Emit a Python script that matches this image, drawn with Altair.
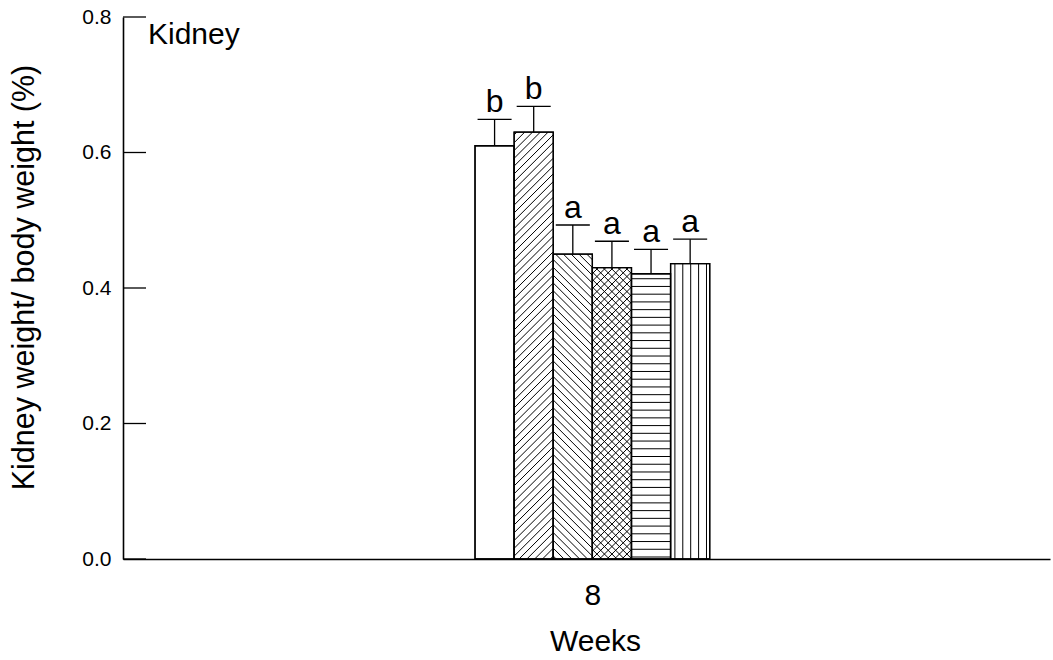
import altair as alt
import numpy as np
import pandas as pd

# ---- data -------------------------------------------------------------
weeks = [8]
groups = ["Group 1", "Group 2", "Group 3", "Group 4", "Group 5", "Group 6"]
means = [0.610, 0.630, 0.450, 0.430, 0.421, 0.436]
errors = [0.039, 0.038, 0.043, 0.039, 0.036, 0.036]
letters = ["b", "b", "a", "a", "a", "a"]
hatches = ["none", "/", "\\", "x", "-", "|"]
y_ticks = [0.0, 0.2, 0.4, 0.6, 0.8]
panel_label = ["Kidney"]

# ---- layout / style ---------------------------------------------------
W, H = 927, 542
X_DOMAIN = [0, 15.8]
Y_DOMAIN = [0, 0.8]
BAR_W = 2 / 3          # bar width in week units
CAP_W = 0.58           # error-bar cap width in week units
SPACING = 7.8          # hatch spacing in pixels
FONT = "Liberation Sans"

px_x = W / (X_DOMAIN[1] - X_DOMAIN[0])
px_y = H / (Y_DOMAIN[1] - Y_DOMAIN[0])

n = len(groups)
week = weeks[0]
bars = pd.DataFrame({"group": groups, "mean": means, "err": errors,
                     "letter": letters, "hatch": hatches})
bars["left"] = week + (np.arange(n) - n / 2) * BAR_W
bars["right"] = bars["left"] + BAR_W
bars["center"] = bars["left"] + BAR_W / 2
bars["base"] = 0.0
bars["top"] = bars["mean"] + bars["err"]
bars["cap_l"] = bars["center"] - CAP_W / 2
bars["cap_r"] = bars["center"] + CAP_W / 2


def diagonal(sign, w, h, s, phase):
    """45-degree hatch lines clipped to a w x h pixel box."""
    out = []
    if sign > 0:  # y = x + c
        c = -w + phase
        while c < h:
            x0, x1 = max(0.0, -c), min(w, h - c)
            if x1 > x0:
                out.append((x0, x0 + c, x1, x1 + c))
            c += s
    else:  # y = -x + c
        c = phase
        while c < w + h:
            x0, x1 = max(0.0, c - h), min(w, c)
            if x1 > x0:
                out.append((x0, c - x0, x1, c - x1))
            c += s
    return out


def hatch_segments(kind, w, h):
    if kind == "/":
        return diagonal(1, w, h, SPACING, 3.0)
    if kind == "\\":
        return diagonal(-1, w, h, SPACING, 3.0)
    if kind == "x":
        return diagonal(1, w, h, 7.5, 2.0) + diagonal(-1, w, h, 7.5, 2.0)
    if kind == "-":
        ys = np.arange(2.0, h, 7.73)
        return [(0.0, y, w, y) for y in ys]
    if kind == "|":
        xs = np.arange(4.3, w - 1.0, 7.9)
        return [(x, 0.0, x, h) for x in xs]
    return []


rows = []
for _, b in bars.iterrows():
    w_px = BAR_W * px_x
    h_px = b["mean"] * px_y
    for (x0, y0, x1, y1) in hatch_segments(b["hatch"], w_px, h_px):
        rows.append({"x1": b["left"] + x0 / px_x, "y1": y0 / px_y,
                     "x2": b["left"] + x1 / px_x, "y2": y1 / px_y})
hatch_df = pd.DataFrame(rows)

x_scale = alt.Scale(domain=X_DOMAIN, nice=False, zero=False)
y_scale = alt.Scale(domain=Y_DOMAIN, nice=False)

x_axis = alt.Axis(values=weeks, format="d", title="Weeks", grid=False,
                  ticks=False, tickSize=0, labelFlush=False,
                  labelFontSize=30, labelBaseline="alphabetic", labelPadding=45,
                  titleFontSize=30, titleFontWeight="normal",
                  titleBaseline="alphabetic", titleY=91, titleX=472)
y_axis = alt.Axis(values=y_ticks, format=".1f",
                  title="Kidney weight/ body weight (%)", grid=False,
                  ticks=False, tickSize=0, labelFontSize=21, labelPadding=12,
                  titleFontSize=30.5, titleFontWeight="normal",
                  titleBaseline="alphabetic", titleAngle=270, titleAlign="center",
                  titleX=-90, titleY=260)


def X(field):
    return alt.X(field, scale=x_scale, axis=x_axis)


def Y(field):
    return alt.Y(field, scale=y_scale, axis=y_axis)


bar_layer = alt.Chart(bars).mark_bar(fill="white", stroke="black", strokeWidth=1.3).encode(
    x=X("left:Q"), x2="right:Q", y=Y("mean:Q"), y2="base:Q",
)

hatch_layer = alt.Chart(hatch_df).mark_rule(color="black", strokeWidth=1).encode(
    x=X("x1:Q"), x2="x2:Q", y=Y("y1:Q"), y2="y2:Q",
)

outline_layer = alt.Chart(bars).mark_bar(fillOpacity=0, stroke="black", strokeWidth=1.3).encode(
    x=X("left:Q"), x2="right:Q", y=Y("mean:Q"), y2="base:Q",
)

stem_layer = alt.Chart(bars).mark_rule(color="black", strokeWidth=1.3).encode(
    x=X("center:Q"), y=Y("mean:Q"), y2="top:Q",
)

cap_layer = alt.Chart(bars).mark_rule(color="black", strokeWidth=1.3).encode(
    x=X("cap_l:Q"), x2="cap_r:Q", y=Y("top:Q"),
)

letter_layer = alt.Chart(bars).mark_text(
    font=FONT, fontSize=32, baseline="alphabetic", align="center", dy=-7, color="black"
).encode(
    x=X("center:Q"), y=Y("top:Q"), text="letter:N",
)

# y-axis ticks drawn inward from the axis line
tick_layer = alt.Chart(pd.DataFrame({"tick": y_ticks})).mark_rule(
    color="black", strokeWidth=1.3
).encode(
    y=Y("tick:Q"), x=alt.value(0), x2=alt.value(23),
)

label_layer = alt.Chart(pd.DataFrame({"label": panel_label})).mark_text(
    font=FONT, fontSize=30, align="left", baseline="alphabetic", color="black"
).encode(
    x=alt.value(25), y=alt.value(27), text="label:N",
)

chart = alt.layer(
    bar_layer, hatch_layer, outline_layer, stem_layer, cap_layer,
    letter_layer, tick_layer, label_layer,
).properties(
    width=W,
    height=H,
    padding={"left": 123, "top": 17, "right": 3, "bottom": 101},
    autosize=alt.AutoSizeParams(type="none"),
).configure_view(
    stroke="transparent",
).configure_axis(
    labelFont=FONT,
    titleFont=FONT,
    labelColor="black",
    titleColor="black",
    domainColor="black",
    domainWidth=1.6,
)

chart.save("out.html", embed_options={"renderer": "svg", "actions": False})
